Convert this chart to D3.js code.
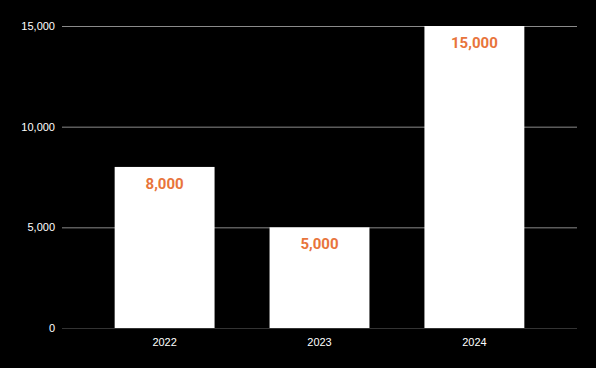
<!DOCTYPE html>
<html>
<head>
<meta charset="utf-8">
<script src="https://cdn.jsdelivr.net/npm/d3@7"></script>
<style>
	html, body { margin: 0; padding: 0; background: #000; }
	svg { display: block; font-family: Roboto, "Noto Sans", sans-serif; }
</style>
</head>
<body>
<div id="chart"></div>
<script>
// chart data
const years = ['2022', '2023', '2024'];
const amounts = [8000, 5000, 15000];
const yTicks = [0, 5000, 10000, 15000];

const w = 596;
const h = 368;
const margin = {top: 26, right: 19, bottom: 40, left: 62};

const svg = d3.select('#chart').append('svg')
	.attr('width', w)
	.attr('height', h);

svg.append('rect')
	.attr('width', w)
	.attr('height', h)
	.attr('fill', '#000');

const x = d3.scaleBand()
	.domain(years)
	.range([margin.left, w - margin.right])
	.paddingInner(0.355)
	.paddingOuter(0.34);

const y = d3.scaleLinear()
	.domain([0, 15000])
	.range([h - margin.bottom, margin.top]);

const fmt = d3.format(',');

// gridlines + y labels
const yAxis = svg.append('g')
	.attr('transform', `translate(${margin.left},0)`)
	.call(d3.axisLeft(y).tickValues(yTicks).tickFormat(fmt).tickSize(-(w - margin.left - margin.right)).tickPadding(7));
yAxis.select('.domain').remove();
yAxis.selectAll('.tick line')
	.attr('stroke', d => d === 0 ? '#333' : '#8a8a8a')
	.attr('stroke-width', 1);
yAxis.selectAll('.tick text')
	.attr('fill', '#fff')
	.style('font-size', '11px');

// bars
svg.selectAll('.bar')
	.data(amounts)
	.enter()
	.append('rect')
	.attr('class', 'bar')
	.attr('x', (d, i) => x(years[i]))
	.attr('y', d => y(d))
	.attr('width', x.bandwidth())
	.attr('height', d => y(0) - y(d))
	.attr('fill', '#fff');

// value labels
svg.selectAll('.val')
	.data(amounts)
	.enter()
	.append('text')
	.attr('class', 'val')
	.attr('x', (d, i) => x(years[i]) + x.bandwidth() / 2)
	.attr('y', d => y(d) + 22)
	.attr('text-anchor', 'middle')
	.attr('fill', '#e8743b')
	.style('font-size', '15px')
	.style('font-weight', 'bold')
	.text(d => fmt(d));

// x labels
const xAxis = svg.append('g')
	.attr('transform', `translate(0,${h - margin.bottom})`)
	.call(d3.axisBottom(x).tickSize(0).tickPadding(10));
xAxis.select('.domain').remove();
xAxis.selectAll('.tick text')
	.attr('fill', '#fff')
	.style('font-size', '11px');
</script>
</body>
</html>
